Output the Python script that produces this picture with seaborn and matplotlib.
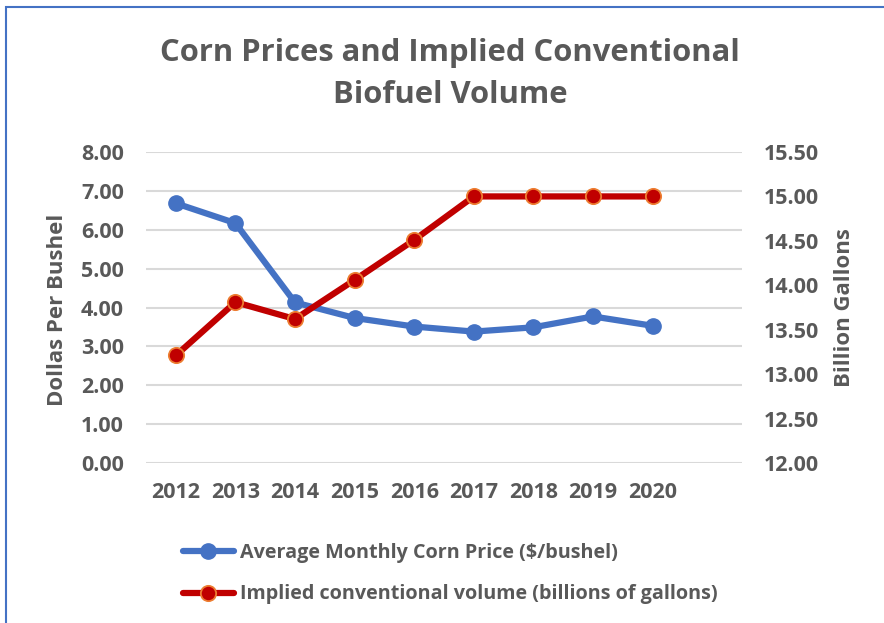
"""
plot.py

Corn prices vs implied conventional biofuel volume (dual axis line chart)
"""

import matplotlib
matplotlib.use("Agg")
import matplotlib.pyplot as plt
from matplotlib.patches import Rectangle
import seaborn as sns
import pandas as pd

# data
years = [2012, 2013, 2014, 2015, 2016, 2017, 2018, 2019, 2020]
corn_price = [6.68, 6.17, 4.13, 3.73, 3.51, 3.38, 3.49, 3.77, 3.53]
conv_volume = [13.21, 13.81, 13.62, 14.06, 14.51, 15.00, 15.00, 15.00, 15.00]
left_ticks = [0, 1, 2, 3, 4, 5, 6, 7, 8]
right_ticks = [12.0, 12.5, 13.0, 13.5, 14.0, 14.5, 15.0, 15.5]

BLUE = "#4472C4"
RED = "#C00000"
ORANGE = "#ED7D31"
TEXT = "#595959"
GRID = "#D9D9D9"

df = pd.DataFrame({"year": years, "price": corn_price, "volume": conv_volume})

sns.set_style("white")
plt.rcParams["font.family"] = ["Open Sans", "DejaVu Sans"]
plt.rcParams["font.weight"] = "bold"

fig = plt.figure(figsize=(8.84, 6.23), dpi=100)
ax = fig.add_axes([146 / 884, 1 - 463 / 623, 596 / 884, 311 / 623])
ax2 = ax.twinx()

sns.lineplot(data=df, x="year", y="price", ax=ax, color=BLUE, linewidth=4.5,
             marker="o", markersize=11, markeredgecolor=BLUE, markeredgewidth=1,
             label="Average Monthly Corn Price ($/bushel)", legend=False, zorder=3)
sns.lineplot(data=df, x="year", y="volume", ax=ax2, color=RED, linewidth=4.5,
             marker="o", markersize=11, markeredgecolor=ORANGE, markeredgewidth=1.3,
             label="Implied conventional volume (billions of gallons)", legend=False, zorder=3)

# one empty category slot at the right, like the original
ax.set_xlim(2011.5, 2021.5)
ax.set_xticks(years)
ax.set_xticklabels([str(y) for y in years])

ax.set_ylim(0, 8)
ax.set_yticks(left_ticks)
ax.set_yticklabels([f"{v:.2f}" for v in left_ticks])
ax2.set_ylim(12, 15.5)
ax2.set_yticks(right_ticks)
ax2.set_yticklabels([f"{v:.2f}" for v in right_ticks])

ax.grid(axis="y", color=GRID, linewidth=1.5)
ax.grid(axis="x", visible=False)
ax2.grid(False)
for a in (ax, ax2):
    for s in a.spines.values():
        s.set_visible(False)
    a.set_xlabel("")
    a.tick_params(length=0, labelsize=15.5, labelcolor=TEXT)
ax.tick_params(axis="y", pad=16)
ax.tick_params(axis="x", pad=14)
ax2.tick_params(axis="y", pad=16)
ax.set_ylabel("")
ax2.set_ylabel("")

fig.text(58 / 884, 1 - 310 / 623, "Dollas Per Bushel", rotation=90, ha="center", va="center",
         fontsize=16, color=TEXT, fontweight="bold")
fig.text(845 / 884, 1 - 308 / 623, "Billion Gallons", rotation=90, ha="center", va="center",
         fontsize=16, color=TEXT, fontweight="bold")

fig.text(450 / 884, 1 - 74 / 623, "Corn Prices and Implied Conventional\nBiofuel Volume",
         ha="center", va="center", fontsize=22.3, color=TEXT, fontweight="bold", linespacing=1.55)

h1, l1 = ax.get_legend_handles_labels()
h2, l2 = ax2.get_legend_handles_labels()
fig.legend(h1 + h2, l1 + l2, loc="upper left", bbox_to_anchor=(165 / 884, 1 - 525 / 623),
           frameon=False, fontsize=14.2, labelcolor=TEXT, handlelength=2.6,
           handletextpad=0.3, labelspacing=1.1)

# chart frame border
fig.patches.append(Rectangle((6 / 884, -0.05), 1.1, 1 - 7 / 623 + 0.05, transform=fig.transFigure,
                             fill=False, edgecolor=BLUE, linewidth=1.5))

fig.savefig("out.png", dpi=100, facecolor="white")
plt.close(fig)
